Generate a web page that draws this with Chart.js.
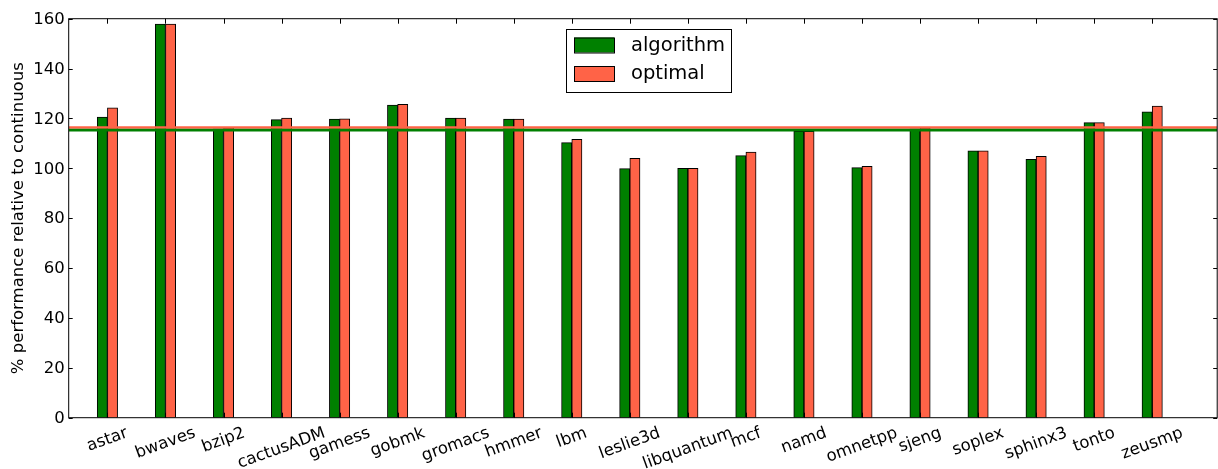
<!DOCTYPE html>
<html>
<head>
<meta charset="utf-8">
<script src="https://cdn.jsdelivr.net/npm/chart.js@4"></script>
<style>
  html, body { margin: 0; padding: 0; background: #ffffff; }
  #wrap { width: 1218px; height: 469px; position: relative; }
</style>
</head>
<body>
<div id="wrap"><canvas id="chart"></canvas></div>
<script>
// benchmark names along the x axis
const benchmarks = ['astar', 'bwaves', 'bzip2', 'cactusADM', 'gamess', 'gobmk', 'gromacs', 'hmmer', 'lbm',
  'leslie3d', 'libquantum', 'mcf', 'namd', 'omnetpp', 'sjeng', 'soplex', 'sphinx3', 'tonto', 'zeusmp'];

// % performance relative to continuous
const algorithmVals = [120.5, 157.8, 115.8, 119.5, 119.7, 125.4, 120.1, 119.7, 110.3,
  99.9, 100.0, 105.1, 114.8, 100.3, 115.8, 107.0, 103.6, 118.3, 122.7];
const optimalVals = [124.3, 157.8, 116.2, 120.1, 119.8, 125.7, 120.1, 119.7, 111.6,
  104.0, 100.0, 106.5, 114.8, 100.8, 116.2, 107.0, 104.8, 118.3, 125.0];

// averages drawn as horizontal lines
const algorithmMean = 115.3;
const optimalMean = 116.4;

const yTicks = [0, 20, 40, 60, 80, 100, 120, 140, 160];
const xMin = -0.667;
const xMax = 19.12;

const colors = {
  algorithm: '#008000',
  optimal: '#ff6347',
  text: '#000000'
};
const fontFamily = "'DejaVu Sans', sans-serif";

const toPoints = vals => vals.map((v, i) => ({ x: i, y: v }));

// matplotlib-ish frame, inward ticks, labels and legend
const decorations = {
  id: 'decorations',
  afterDraw(chart) {
    const { ctx, chartArea: a, scales: { x, y } } = chart;
    ctx.save();

    // frame
    ctx.strokeStyle = '#000000';
    ctx.lineWidth = 1;
    ctx.strokeRect(a.left, a.top, a.right - a.left, a.bottom - a.top);

    // y ticks (both sides, inward)
    ctx.beginPath();
    yTicks.forEach(t => {
      const py = Math.round(y.getPixelForValue(t)) + 0.5;
      ctx.moveTo(a.left, py); ctx.lineTo(a.left + 4, py);
      ctx.moveTo(a.right, py); ctx.lineTo(a.right - 4, py);
    });
    // x ticks (top and bottom, inward)
    benchmarks.forEach((_, i) => {
      const px = Math.round(x.getPixelForValue(i)) + 0.5;
      ctx.moveTo(px, a.top); ctx.lineTo(px, a.top + 5);
      ctx.moveTo(px, a.bottom); ctx.lineTo(px, a.bottom - 5);
    });
    ctx.stroke();

    // y tick labels
    ctx.fillStyle = colors.text;
    ctx.font = `16.5px ${fontFamily}`;
    ctx.textAlign = 'right';
    ctx.textBaseline = 'middle';
    yTicks.forEach(t => ctx.fillText(String(t), a.left - 4, y.getPixelForValue(t) + 1));

    // x tick labels, rotated, centred on the tick
    const rot = 20 * Math.PI / 180;
    const lineH = 19;
    const top = a.bottom + 6;
    ctx.textAlign = 'center';
    ctx.textBaseline = 'middle';
    benchmarks.forEach((name, i) => {
      const w = ctx.measureText(name).width;
      const h = w * Math.sin(rot) + lineH * Math.cos(rot);
      ctx.save();
      ctx.translate(x.getPixelForValue(i), top + h / 2);
      ctx.rotate(-rot);
      ctx.fillText(name, 0, 0);
      ctx.restore();
    });

    // y axis title
    ctx.save();
    ctx.translate(19, (a.top + a.bottom) / 2);
    ctx.rotate(-Math.PI / 2);
    ctx.textAlign = 'center';
    ctx.textBaseline = 'middle';
    ctx.fillText('% performance relative to continuous', 0, 0);
    ctx.restore();

    // legend box
    const lx = 566, ly = 29, lw = 165, lh = 63;
    ctx.fillStyle = '#ffffff';
    ctx.fillRect(lx, ly, lw, lh);
    ctx.strokeStyle = '#000000';
    ctx.strokeRect(lx + 0.5, ly + 0.5, lw, lh);
    const items = [['algorithm', colors.algorithm, 37.5], ['optimal', colors.optimal, 66]];
    ctx.font = `19.5px ${fontFamily}`;
    ctx.textAlign = 'left';
    items.forEach(([label, col, py]) => {
      ctx.fillStyle = col;
      ctx.fillRect(574, py, 40, 15);
      ctx.strokeRect(574.5, py + 0.5, 40, 15);
      ctx.fillStyle = colors.text;
      ctx.fillText(label, 631, py + 8);
    });

    ctx.restore();
  }
};

new Chart(document.getElementById('chart'), {
  type: 'bar',
  data: {
    datasets: [
      {
        label: 'algorithm',
        data: toPoints(algorithmVals),
        backgroundColor: colors.algorithm,
        borderColor: '#000000',
        borderWidth: 1,
        barThickness: 10.2,
        order: 3
      },
      {
        label: 'optimal',
        data: toPoints(optimalVals),
        backgroundColor: colors.optimal,
        borderColor: '#000000',
        borderWidth: 1,
        barThickness: 10.2,
        order: 3
      },
      {
        type: 'line',
        label: 'optimal mean',
        data: [{ x: xMin, y: optimalMean }, { x: xMax, y: optimalMean }],
        borderColor: colors.optimal,
        borderWidth: 2.6,
        pointRadius: 0,
        order: 2
      },
      {
        type: 'line',
        label: 'algorithm mean',
        data: [{ x: xMin, y: algorithmMean }, { x: xMax, y: algorithmMean }],
        borderColor: colors.algorithm,
        borderWidth: 2.6,
        pointRadius: 0,
        order: 1
      }
    ]
  },
  options: {
    responsive: true,
    maintainAspectRatio: false,
    animation: false,
    layout: { padding: { left: 68.7, right: 0.8, top: 18.7, bottom: 51.3 } },
    plugins: {
      legend: { display: false },
      tooltip: { enabled: false }
    },
    scales: {
      x: {
        type: 'linear',
        display: false,
        offset: false,
        min: xMin,
        max: xMax,
        afterBuildTicks: scale => { scale.ticks = benchmarks.map((_, i) => ({ value: i })); }
      },
      y: {
        type: 'linear',
        display: false,
        min: 0,
        max: 160
      }
    }
  },
  plugins: [decorations]
});
</script>
</body>
</html>
